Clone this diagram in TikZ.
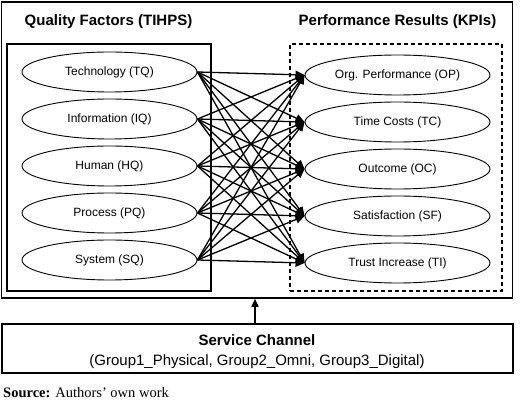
\documentclass[tikz,border=0pt]{standalone}
\usepackage{fontspec}
\setmainfont{Liberation Sans}
\newfontfamily\srcfont{Liberation Serif}
\usetikzlibrary{arrows.meta,shapes.geometric}
\begin{document}
\begin{tikzpicture}[x=1pt,y=-1pt,
  frame/.style={draw, rectangle, line width=1.6pt, inner sep=0pt},
  grp/.style={draw, rectangle, line width=1.1pt, inner sep=0pt},
  kpibox/.style={draw, rectangle, line width=1.1pt, dash pattern=on 4pt off 3pt, inner sep=0pt},
  oval/.style={ellipse, draw, line width=0.9pt, inner sep=0pt, minimum height=40pt, font=\fontsize{12}{14}\selectfont},
  lq/.style={oval, minimum width=175pt},
  rk/.style={oval, minimum width=185pt},
  ttl/.style={font=\bfseries\fontsize{15}{18}\selectfont, inner sep=0pt},
  link/.style={line width=1.3pt, -{Triangle[length=9pt,width=8pt]}},
  up/.style={line width=1.6pt, -{Triangle[length=8pt,width=7pt]}}
]
\useasboundingbox (0,0) rectangle (520,403);

\node[frame, minimum width=511pt, minimum height=296pt] (outer) at (257,150) {};
\node[grp, minimum width=204pt, minimum height=247pt] (qbox) at (109,167.5) {};
\node[kpibox, minimum width=212pt, minimum height=247pt] (kbox) at (396,167.5) {};

\node[ttl] (qt) at (108.5,22) {Quality Factors (TIHPS)};
\node[ttl] (kt) at (397.5,22) {Performance Results (KPIs)};

\node[lq] (l1) at (109.5,72) {Technology (TQ)};
\node[lq] (l2) at (109.5,119) {Information (IQ)};
\node[lq] (l3) at (109.5,166) {Human (HQ)};
\node[lq] (l4) at (109.5,213) {Process (PQ)};
\node[lq] (l5) at (109.5,260) {System (SQ)};

\node[rk] (r1) at (397.5,75) {Org. Performance (OP)};
\node[rk] (r2) at (397.5,122) {Time Costs (TC)};
\node[rk] (r3) at (397.5,169) {Outcome (OC)};
\node[rk] (r4) at (397.5,216) {Satisfaction (SF)};
\node[rk] (r5) at (397.5,263) {Trust Increase (TI)};

\foreach \i in {1,...,5}{
  \foreach \j in {1,...,5}{
    \draw[link] (l\i.east) -- (r\j.west);
  }
}

\node[frame, minimum width=511pt, minimum height=49pt] (svc) at (257.5,348.5) {};
\node[align=center, inner sep=0pt, font=\fontsize{15}{20}\selectfont] (svct) at (257,352)
  {\textbf{Service Channel}\\(Group1\_Physical, Group2\_Omni, Group3\_Digital)};
\draw[up] ([xshift=-2.5pt]svc.north) -- ([xshift=-2pt]outer.south);

\node[anchor=west, inner sep=0pt, font=\srcfont\fontsize{14.5}{17}\selectfont] (src) at (3,393)
  {\textbf{Source:} Authors’ own work};
\end{tikzpicture}
\end{document}
